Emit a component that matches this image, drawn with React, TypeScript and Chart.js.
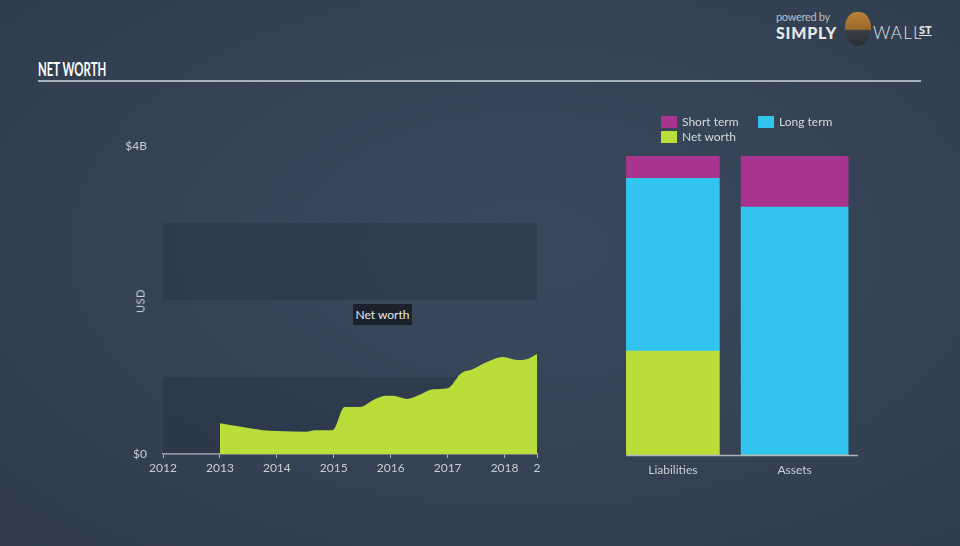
import React, { useEffect, useRef } from 'react';
import { Chart, registerables } from 'chart.js';

Chart.register(...registerables);

// ---- Data ----
const areaYears = [2013.0, 2013.35, 2013.75, 2014.0, 2014.52, 2014.67, 2014.98, 2015.19, 2015.46, 2015.72, 2015.92, 2016.04, 2016.28, 2016.51, 2016.74, 2017.0, 2017.24, 2017.44, 2017.68, 2017.97, 2018.23, 2018.38, 2018.57];
const netWorthHistory = [0.40, 0.356, 0.31, 0.30, 0.29, 0.31, 0.31, 0.61, 0.61, 0.71, 0.755, 0.755, 0.715, 0.77, 0.84, 0.855, 1.05, 1.10, 1.19, 1.26, 1.22, 1.23, 1.30];
const xTickYears = [2012, 2013, 2014, 2015, 2016, 2017, 2018];
const xMin = 2012;
const xMax = 2018.57;
const yTicks = [0, 4];
const bandRanges = [[0, 1], [2, 3]];

const barCategories = ['Liabilities', 'Assets'];
const netWorthBar = [1.30, 0];
const longTermBar = [2.16, 3.10];
const shortTermBar = [0.28, 0.64];
const barThicknesses = [93, 107];

// ---- Styles ----
const LIME = '#b9de3a';
const CYAN = '#33c3ef';
const MAGENTA = '#a8348e';
const TEXT = '#c9ced4';
const AXIS = '#aeb5bd';
const FONT = 'Lato, "Open Sans", sans-serif';

const Y_AXIS_W = 40;
const X_AXIS_H = 30;

const bandsPlugin = {
  id: 'bands',
  beforeDatasetsDraw(chart: any) {
    const { ctx, chartArea, scales } = chart;
    const y = scales.y;
    ctx.save();
    ctx.fillStyle = 'rgba(24, 33, 44, 0.22)';
    bandRanges.forEach(([a, b]) => {
      const y0 = y.getPixelForValue(a);
      const y1 = y.getPixelForValue(b);
      ctx.fillRect(chartArea.left, y1, chartArea.right - chartArea.left, y0 - y1);
    });
    ctx.restore();
  },
};

const barAxisPlugin = {
  id: 'barAxis',
  afterDatasetsDraw(chart: any) {
    const { ctx, scales } = chart;
    const first = chart.getDatasetMeta(0).data[0] as any;
    const lastMeta = chart.getDatasetMeta(chart.data.datasets.length - 1);
    const last = lastMeta.data[barCategories.length - 1] as any;
    if (!first || !last) return;
    const y = scales.y.getPixelForValue(0);
    ctx.save();
    ctx.strokeStyle = AXIS;
    ctx.lineWidth = 1.5;
    ctx.beginPath();
    ctx.moveTo(first.x - first.width / 2, y + 0.5);
    ctx.lineTo(last.x + last.width / 2 + 10, y + 0.5);
    ctx.stroke();
    ctx.restore();
  },
};

export default function App() {
  const leftRef = useRef<HTMLCanvasElement>(null);
  const rightRef = useRef<HTMLCanvasElement>(null);

  useEffect(() => {
    const left = new Chart(leftRef.current as HTMLCanvasElement, {
      type: 'line',
      data: {
        datasets: [
          {
            label: 'Net worth',
            data: areaYears.map((x, i) => ({ x, y: netWorthHistory[i] })),
            fill: 'origin',
            backgroundColor: LIME,
            borderColor: LIME,
            borderWidth: 0,
            pointRadius: 0,
            cubicInterpolationMode: 'monotone',
          } as any,
        ],
      },
      options: {
        animation: false,
        responsive: false,
        maintainAspectRatio: false,
        layout: { padding: { left: 163 - Y_AXIS_W, top: 146, right: 960 - 537, bottom: 546 - 454 - X_AXIS_H } },
        plugins: { legend: { display: false }, tooltip: { enabled: false } },
        scales: {
          x: {
            type: 'linear',
            min: xMin,
            max: xMax,
            afterBuildTicks: (s: any) => {
              s.ticks = [...xTickYears, xMax].map((v) => ({ value: v }));
            },
            afterFit: (s: any) => {
              s.height = X_AXIS_H;
            },
            ticks: {
              autoSkip: false,
              maxRotation: 0,
              padding: 3,
              color: TEXT,
              font: { family: FONT, size: 12 },
              callback: (v: any) => (v === xMax ? '2' : String(v)),
            },
            grid: { display: true, drawOnChartArea: false, drawTicks: true, tickLength: 4, color: AXIS, lineWidth: 1 },
            border: { display: true, color: AXIS, width: 1.5 },
          },
          y: {
            min: 0,
            max: 4,
            afterBuildTicks: (s: any) => {
              s.ticks = yTicks.map((v) => ({ value: v }));
            },
            afterFit: (s: any) => {
              s.width = Y_AXIS_W;
            },
            ticks: {
              padding: 16,
              color: TEXT,
              font: { family: FONT, size: 12 },
              callback: (v: any) => (v === 0 ? '$0' : '$' + v + 'B'),
            },
            grid: { display: false, drawTicks: false },
            border: { display: false },
          },
        },
      } as any,
      plugins: [bandsPlugin],
    });

    const series = [
      { name: 'Net worth', values: netWorthBar, color: LIME },
      { name: 'Long term', values: longTermBar, color: CYAN },
      { name: 'Short term', values: shortTermBar, color: MAGENTA },
    ];
    const datasets: any[] = [];
    barCategories.forEach((_, ci) => {
      series.forEach((s) => {
        datasets.push({
          label: s.name,
          data: barCategories.map((__, j) => (j === ci ? s.values[ci] : null)),
          backgroundColor: s.color,
          borderWidth: 0,
          barThickness: barThicknesses[ci],
          grouped: false,
        });
      });
    });
    const totals = barCategories.map((_, i) => netWorthBar[i] + longTermBar[i] + shortTermBar[i]);

    const right = new Chart(rightRef.current as HTMLCanvasElement, {
      type: 'bar',
      data: { labels: barCategories, datasets },
      options: {
        animation: false,
        responsive: false,
        maintainAspectRatio: false,
        layout: { padding: { left: 612, top: 156, right: 960 - 855.5, bottom: 546 - 455 - X_AXIS_H } },
        plugins: { legend: { display: false }, tooltip: { enabled: false } },
        scales: {
          x: {
            stacked: true,
            offset: true,
            afterFit: (s: any) => {
              s.height = X_AXIS_H;
            },
            ticks: { padding: 8, color: TEXT, font: { family: FONT, size: 12 } },
            grid: { display: false, drawTicks: false },
            border: { display: false },
          },
          y: {
            stacked: true,
            display: false,
            min: 0,
            max: Math.max(...totals),
          },
        },
      } as any,
      plugins: [barAxisPlugin],
    });

    return () => {
      left.destroy();
      right.destroy();
    };
  }, []);

  const legendItems = [
    { label: 'Short term', color: MAGENTA, x: 661, y: 116 },
    { label: 'Long term', color: CYAN, x: 758, y: 116 },
    { label: 'Net worth', color: LIME, x: 661, y: 131 },
  ];

  return (
    <div
      style={{
        position: 'absolute',
        left: 0,
        top: 0,
        width: 960,
        height: 546,
        overflow: 'hidden',
        background: 'radial-gradient(ellipse at 55% 45%, #39495b 0%, #344254 55%, #2f3b4a 100%)',
        fontFamily: FONT,
      }}
    >
      {/* logo */}
      <div style={{ position: 'absolute', left: 776, top: 10, fontSize: 11, color: '#b9bfc6', letterSpacing: -0.3 }}>powered by</div>
      <div style={{ position: 'absolute', left: 776, top: 23, fontSize: 16, fontWeight: 900, color: '#e6e8ea', letterSpacing: 0.8 }}>SIMPLY</div>
      <div
        style={{
          position: 'absolute',
          left: 845,
          top: 12,
          width: 26,
          height: 34,
          borderRadius: '45% 45% 50% 50%',
          background: 'linear-gradient(180deg, #b7823a 0%, #9c6a2c 50%, #3a3d44 55%, #2b2e35 100%)',
        }}
      />
      <div style={{ position: 'absolute', left: 873, top: 22, fontSize: 17, fontWeight: 300, color: '#e0e2e4', letterSpacing: 1.2 }}>WALL</div>
      <div style={{ position: 'absolute', left: 919, top: 23, fontSize: 11, fontWeight: 900, color: '#e0e2e4', textDecoration: 'underline' }}>ST</div>

      {/* title */}
      <div
        style={{
          position: 'absolute',
          left: 38,
          top: 57,
          fontSize: 19,
          fontWeight: 700,
          color: '#ffffff',
          fontFamily: 'Lato, sans-serif',
          transform: 'scaleX(0.6)',
          transformOrigin: 'left top',
          whiteSpace: 'nowrap',
        }}
      >
        NET WORTH
      </div>
      <div style={{ position: 'absolute', left: 38, top: 80, width: 883, height: 2, background: '#a7afb8' }} />

      <canvas ref={leftRef} width={960} height={546} style={{ position: 'absolute', left: 0, top: 0, width: 960, height: 546 }} />
      <canvas ref={rightRef} width={960} height={546} style={{ position: 'absolute', left: 0, top: 0, width: 960, height: 546 }} />

      {/* y-axis title */}
      <div
        style={{
          position: 'absolute',
          left: 140,
          top: 301,
          transform: 'translate(-50%, -50%) rotate(-90deg)',
          fontSize: 11,
          color: TEXT,
          letterSpacing: 0.5,
        }}
      >
        USD
      </div>

      {/* series label */}
      <div
        style={{
          position: 'absolute',
          left: 353,
          top: 304,
          width: 59,
          height: 21,
          background: '#1b222b',
          color: '#e6e9ec',
          fontSize: 12,
          lineHeight: '21px',
          textAlign: 'center',
        }}
      >
        Net worth
      </div>

      {/* legend */}
      {legendItems.map((it) => (
        <React.Fragment key={it.label}>
          <div style={{ position: 'absolute', left: it.x, top: it.y, width: 16, height: 12, background: it.color }} />
          <div style={{ position: 'absolute', left: it.x + 21, top: it.y - 2, fontSize: 12, color: '#d6dade', lineHeight: '16px' }}>{it.label}</div>
        </React.Fragment>
      ))}
    </div>
  );
}
